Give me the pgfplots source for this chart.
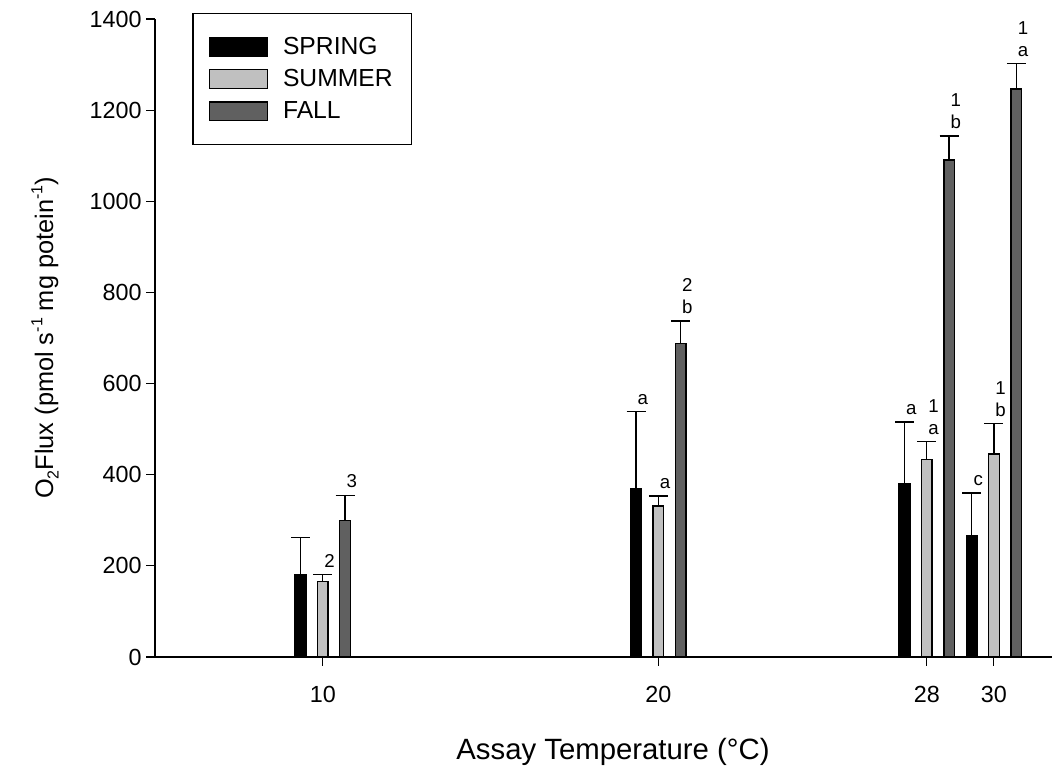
\documentclass[border=0pt]{standalone}
\usepackage{fontspec}
\setmainfont{Liberation Sans}
\usepackage{pgfplots}
\pgfplotsset{compat=1.18}
\definecolor{summerc}{HTML}{C0C0C0}
\definecolor{fallc}{HTML}{606060}
\newcommand{\annfont}{\fontsize{14}{16}\selectfont}
\newcommand{\sups}[1]{\raisebox{0.42em}{\fontsize{12}{14}\selectfont #1}}
\newcommand{\subs}[1]{\raisebox{-0.22em}{\fontsize{12}{14}\selectfont #1}}
\begin{document}
\begin{tikzpicture}
\begin{axis}[
  at={(0,0)}, anchor=south west,
  scale only axis, width=672.75pt, height=478.5pt,
  xmin=5, xmax=31.73, ymin=0, ymax=1400,
  axis x line*=bottom, axis y line*=left,
  axis line style={line width=1.2pt},
  xtick={10,20,28,30}, ytick={0,200,...,1400},
  tick align=outside, major tick length=6.5pt,
  tick style={line width=0.8pt, black},
  /pgf/number format/assume math mode=true,
  /pgf/number format/1000 sep={},
  ticklabel style={font=\fontsize{17.5}{21}\selectfont},
  xticklabel style={yshift=-12pt},
  xlabel={Assay Temperature (°C)},
  ylabel={O\subs{2}Flux (pmol s\sups{-1} mg potein\sups{-1})},
  xlabel style={font=\fontsize{22}{26}\selectfont, at={(axis description cs:0.5106,-0.148)}, anchor=center},
  ylabel style={font=\fontsize{19}{23}\selectfont, at={(axis description cs:-0.1226,0.5)}, anchor=center},
  clip=false,
  ybar, bar width=0.32,
  legend style={at={(axis description cs:0.0416,1.009)}, anchor=north west,
    draw=black, line width=0.9pt, font=\fontsize{18.5}{22}\selectfont,
    inner xsep=12pt, inner ysep=15.7pt, row sep=5.7pt, column sep=9pt,
    cells={anchor=west}},
  legend image code/.code={\draw[#1, line width=1.1pt] (0pt,-7.1pt) rectangle (43.5pt,7.1pt);},
  error bars/error bar style={line width=1pt, black},
  error bars/error mark options={line width=1pt, black, mark size=7.1pt, rotate=90},
]
\addplot[fill=black, draw=black, line width=1.1pt, bar shift=-0.665,
  error bars/.cd, y dir=plus, y explicit]
  coordinates {(10,181) +- (0,81) (20,369) +- (0,170) (28,381) +- (0,135) (30,266) +- (0,94)};
\addlegendentry{SPRING}
\addplot[fill=summerc, draw=black, line width=1.1pt, bar shift=0,
  error bars/.cd, y dir=plus, y explicit]
  coordinates {(10,166) +- (0,15) (20,331) +- (0,22) (28,433) +- (0,40) (30,445) +- (0,67)};
\addlegendentry{SUMMER}
\addplot[fill=fallc, draw=black, line width=1.1pt, bar shift=0.665,
  error bars/.cd, y dir=plus, y explicit]
  coordinates {(10,299) +- (0,56) (20,688) +- (0,49) (28,1091) +- (0,52) (30,1246) +- (0,56)};
\addlegendentry{FALL}
% significance labels, first line (just above the caps)
\addplot[forget plot, only marks, mark=none, nodes near coords, point meta=explicit symbolic,
  every node near coord/.append style={anchor=base, inner sep=0pt, yshift=5.5pt, font=\annfont}]
  table[x expr=\thisrow{x}-0.665, y=y, meta=lab] {
x y lab
20 539 a
28 516 a
30 360 c
};
\addplot[forget plot, only marks, mark=none, nodes near coords, point meta=explicit symbolic,
  every node near coord/.append style={anchor=base, inner sep=0pt, yshift=5.5pt, font=\annfont}]
  table[x=x, y=y, meta=lab] {
x y lab
10 181 2
20 353 a
28 473 a
30 512 b
};
\addplot[forget plot, only marks, mark=none, nodes near coords, point meta=explicit symbolic,
  every node near coord/.append style={anchor=base, inner sep=0pt, yshift=5.5pt, font=\annfont}]
  table[x expr=\thisrow{x}+0.665, y=y, meta=lab] {
x y lab
10 355 3
20 737 b
28 1143 b
30 1302 a
};
% second line
\addplot[forget plot, only marks, mark=none, nodes near coords, point meta=explicit symbolic,
  every node near coord/.append style={anchor=base, inner sep=0pt, yshift=22pt, font=\annfont}]
  table[x=x, y=y, meta=lab] {
x y lab
28 473 1
30 512 1
};
\addplot[forget plot, only marks, mark=none, nodes near coords, point meta=explicit symbolic,
  every node near coord/.append style={anchor=base, inner sep=0pt, yshift=22pt, font=\annfont}]
  table[x expr=\thisrow{x}+0.665, y=y, meta=lab] {
x y lab
20 737 2
28 1143 1
30 1302 1
};
\end{axis}
\pgfresetboundingbox
\path (-116.25pt,-85.5pt) rectangle (677.25pt,492.75pt);
\end{tikzpicture}
\end{document}
